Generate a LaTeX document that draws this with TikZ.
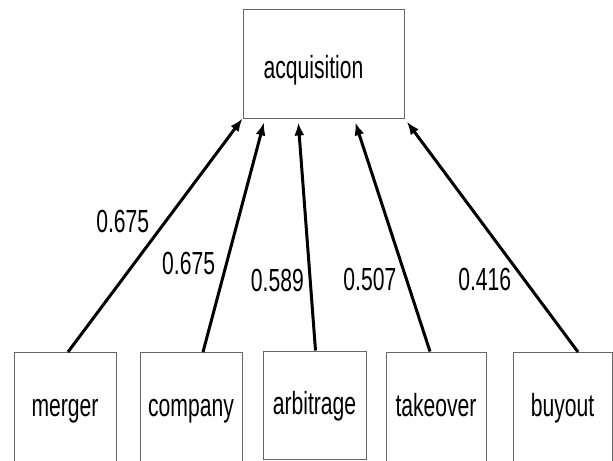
\documentclass[tikz,border=0pt]{standalone}
\usepackage{fontspec}
\setmainfont{Liberation Sans}[FakeStretch=0.66]
\usetikzlibrary{arrows.meta}

\begin{document}
\begin{tikzpicture}[x=0.5pt, y=-0.5pt,
    mot/.style={draw=black!60, line width=0.5pt, font=\fontsize{16}{19}\selectfont,
      minimum width=51pt, minimum height=55pt, text height=13pt, text depth=4pt},
    poids/.style={font=\fontsize{16}{19}\selectfont, anchor=east, inner sep=0pt},
    fleche/.style={line width=1.5pt, -{Latex[length=6.5pt,width=5pt]}}]
  \useasboundingbox (0,0) rectangle (613,460);

  \node[mot, minimum width=80.5pt, minimum height=54pt, text height=16pt, text depth=2pt]
    (acq) at (323.5,64) {\hspace*{-10pt}acquisition};

  \node[mot] (merger) at (65,407.5) {merger};
  \node[mot] (company) at (191,407.5) {company};
  \node[mot, minimum width=51.5pt, minimum height=54pt] (arbitrage) at (314.5,405) {arbitrage};
  \node[mot, minimum width=50pt] (takeover) at (436,407) {takeover};
  \node[mot, minimum width=49.5pt] (buyout) at (562.5,407.5) {buyout};

  % poids des liens
  \draw[fleche] ([xshift=1.5pt]merger.north) -- (acq.south west)
    node[poids, pos=0.56, left=7.5pt] {0.675};
  \draw[fleche, shorten >=2pt] ([xshift=6pt]company.north) -- ([xshift=-29.25pt]acq.south)
    node[poids, pos=0.38, left=5pt] {0.675};
  \draw[fleche, shorten >=2pt] ([xshift=0.5pt]arbitrage.north) -- ([xshift=-12.75pt]acq.south)
    node[poids, pos=0.30, left=2.5pt] {0.589};
  \draw[fleche, shorten >=2pt] ([xshift=-3pt]takeover.north) -- ([xshift=15.25pt]acq.south)
    node[poids, pos=0.31, left=4.3pt] {0.507};
  \draw[fleche, shorten >=2pt] ([xshift=7.75pt]buyout.north) -- (acq.south east)
    node[poids, pos=0.31, left=5.8pt] {0.416};
\end{tikzpicture}
\end{document}
